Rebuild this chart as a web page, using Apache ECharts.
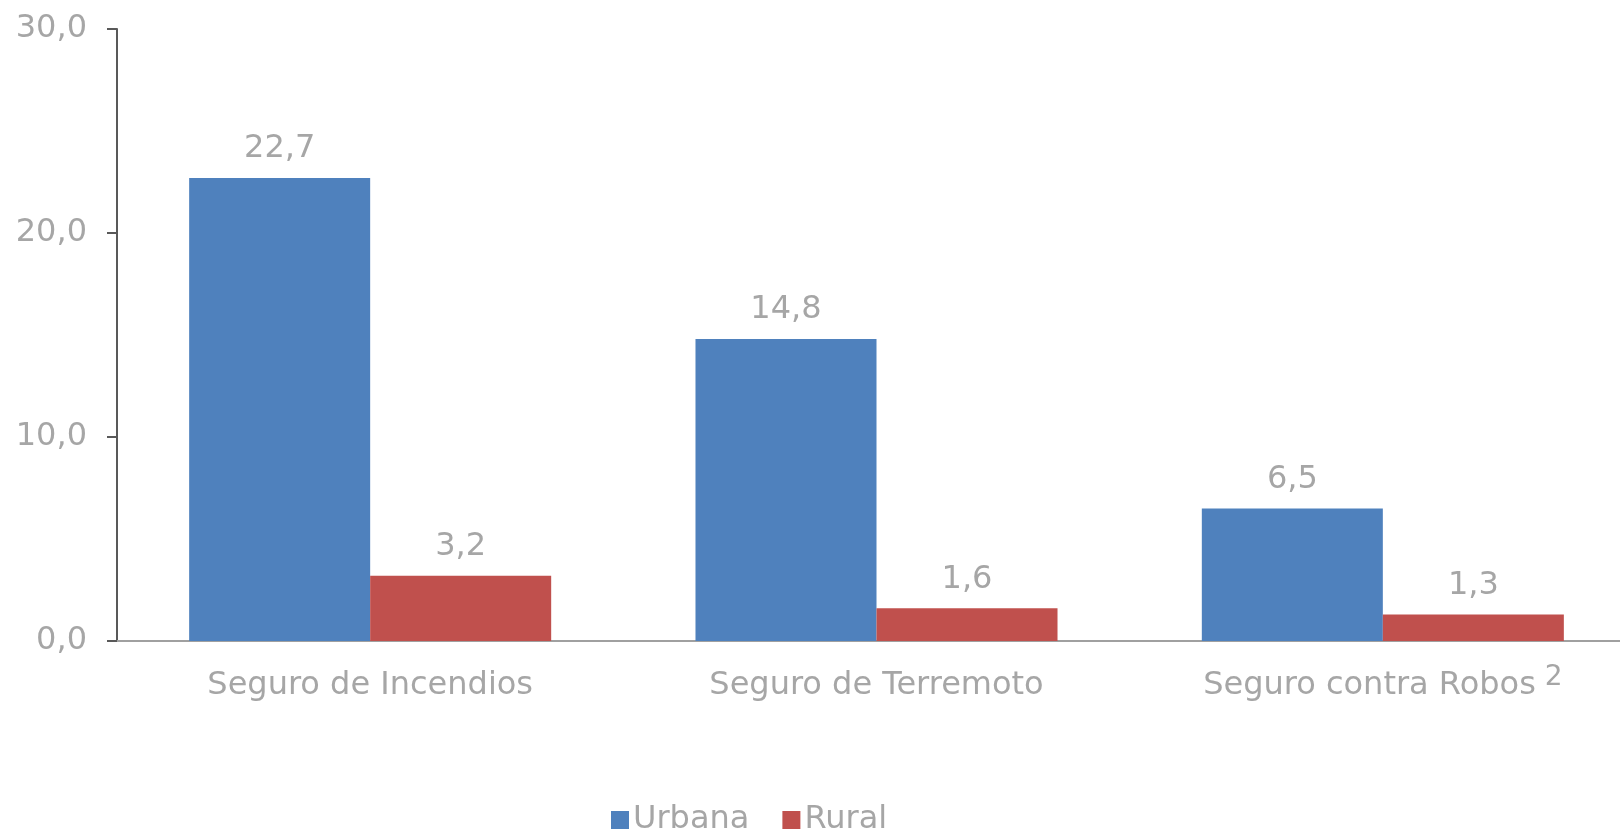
<!DOCTYPE html>
<html>
<head>
<meta charset="utf-8">
<script src="https://cdn.jsdelivr.net/npm/echarts@6/dist/echarts.min.js"></script>
<style>
  html, body { margin: 0; padding: 0; background: #fff; overflow: hidden; }
  #chart { width: 1636px; height: 832px; }
</style>
</head>
<body>
<div id="chart"></div>
<script>
// datos
var categories = ['Seguro de Incendios', 'Seguro de Terremoto', 'Seguro contra Robos'];
var footnotes = ['', '', '2'];
var urbana = [22.7, 14.8, 6.5];
var rural = [3.2, 1.6, 1.3];
var yTicks = [0, 10, 20, 30];

var gris = '#A6A6A6';
var fuente = 'DejaVu Sans';

function coma(v) {
    return Number(v).toFixed(1).replace('.', ',');
}

var chart = echarts.init(document.getElementById('chart'));

var etiqueta = {
    show: true,
    position: 'top',
    distance: 13,
    color: gris,
    fontFamily: fuente,
    fontSize: 32,
    formatter: function (p) { return coma(p.value); }
};

chart.setOption({
    animation: false,
    grid: { left: 117, right: 0, top: 29, bottom: 191, containLabel: false },
    legend: {
        left: 606,
        top: 799,
        itemWidth: 18,
        itemHeight: 18,
        itemGap: 33,
        icon: 'rect',
        textStyle: { color: gris, fontFamily: fuente, fontSize: 32, padding: [0, 0, 0, -1] },
        data: ['Urbana', 'Rural']
    },
    xAxis: {
        type: 'category',
        data: categories,
        axisLine: { show: true, lineStyle: { color: '#A0A0A0', width: 2 } },
        axisTick: { show: false },
        axisLabel: {
            interval: 0,
            margin: 23,
            color: gris,
            fontFamily: fuente,
            fontSize: 32,
            lineHeight: 44,
            formatter: function (v, i) {
                var s = '{n|' + v + '}';
                return footnotes[i] ? s + '{sup| ' + footnotes[i] + '}' : s;
            },
            rich: {
                n: { fontSize: 32, color: gris, fontFamily: fuente, lineHeight: 44 },
                sup: { fontSize: 28, color: gris, fontFamily: fuente, lineHeight: 20, verticalAlign: 'top' }
            }
        }
    },
    yAxis: {
        type: 'value',
        min: yTicks[0],
        max: yTicks[yTicks.length - 1],
        interval: 10,
        axisLine: { show: true, lineStyle: { color: '#595959', width: 2 } },
        axisTick: { show: true, length: 10, lineStyle: { color: '#595959', width: 2 } },
        splitLine: { show: false },
        axisLabel: {
            margin: 30,
            color: gris,
            fontFamily: fuente,
            fontSize: 32,
            formatter: coma
        }
    },
    series: [
        {
            name: 'Urbana',
            type: 'bar',
            data: urbana,
            barGap: '0%',
            barCategoryGap: '28.5%',
            itemStyle: { color: '#4F81BD' },
            label: etiqueta
        },
        {
            name: 'Rural',
            type: 'bar',
            data: rural,
            itemStyle: { color: '#C0504D' },
            label: etiqueta
        }
    ]
});
</script>
</body>
</html>
